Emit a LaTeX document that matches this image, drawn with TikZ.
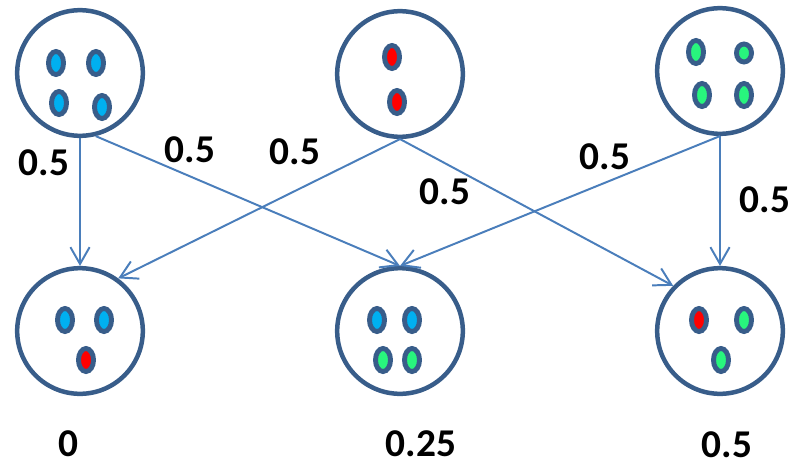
\documentclass[tikz,border=0pt]{standalone}
\usepackage{fontspec}
\setmainfont{Carlito}
\usepackage{tikz}
\usetikzlibrary{arrows.meta}
\definecolor{rim}{RGB}{56,93,138}
\definecolor{edgeblue}{RGB}{74,126,187}
\definecolor{ballblue}{RGB}{0,176,240}
\definecolor{ballred}{RGB}{255,0,0}
\definecolor{ballgreen}{RGB}{40,245,125}
\tikzset{
   urn/.style={circle, draw=rim, line width=3.2pt, minimum size=3.14cm, inner sep=0pt},
   ball/.style={draw=rim, line width=3.5pt, fill=#1},
   trans/.style={draw=edgeblue, line width=1.4pt,
      -{Straight Barb[length=0.42cm, width=0.48cm]}},
   prob/.style={font=\fontsize{28}{34}\selectfont\bfseries, inner sep=1pt},
}
\begin{document}
\begin{tikzpicture}[x=0.025cm, y=-0.025cm]
            \useasboundingbox (0,0) rectangle (796,467);
            % urns before and after the draw
            \node[urn] (tl) at (80,73) {};
            \node[urn] (tm) at (400,74) {};
            \node[urn] (tr) at (720,71) {};
            \node[urn] (bl) at (80,331) {};
            \node[urn] (bm) at (400,331) {};
            \node[urn] (br) at (720,331) {};
            % balls
            \foreach \p in {(56,63),(96,63),(59,103),(102,107)}
               \draw[ball=ballblue] \p ellipse (7.5 and 11.5);
            \foreach \p in {(392,57),(397,102)}
               \draw[ball=ballred] \p ellipse (7.5 and 11.5);
            \foreach \p in {(696,52),(702,95),(744,95)}
               \draw[ball=ballgreen] \p ellipse (7.5 and 11.5);
            \draw[ball=ballgreen] (744,53) ellipse (7.5 and 9);
            \foreach \p in {(65,320),(104,320)}
               \draw[ball=ballblue] \p ellipse (7.5 and 11.5);
            \draw[ball=ballred] (86,360) ellipse (7.5 and 11.5);
            \foreach \p in {(377,320),(412,320)}
               \draw[ball=ballblue] \p ellipse (7.5 and 11.5);
            \foreach \p in {(383,360),(412,360)}
               \draw[ball=ballgreen] \p ellipse (7.5 and 11.5);
            \draw[ball=ballred] (699,320) ellipse (7.5 and 11.5);
            \foreach \p in {(744,320),(721,360)}
               \draw[ball=ballgreen] \p ellipse (7.5 and 11.5);
            % transitions
            \draw[trans] (tl.south) -- (bl.north);
            \draw[trans] (tl.-76) -- (bm.north);
            \draw[trans] (tm.south) -- (bl.54);
            \draw[trans] (tm.south) -- (br.136);
            \draw[trans] (tr.south) -- (bm.north);
            \draw[trans] (tr.south) -- (br.north);
            \node[prob] (w1) at (44,163) {0.5};
            \node[prob] (w2) at (190,150) {0.5};
            \node[prob] (w3) at (295,152) {0.5};
            \node[prob] (w4) at (445,192) {0.5};
            \node[prob] (w5) at (605,157) {0.5};
            \node[prob] (w6) at (765,200) {0.5};
            % values below the urns
            \node[prob] (v1) at (68,444) {0};
            \node[prob] (v2) at (421,444) {0.25};
            \node[prob] (v3) at (727,445) {0.5};
        \end{tikzpicture}
\end{document}
